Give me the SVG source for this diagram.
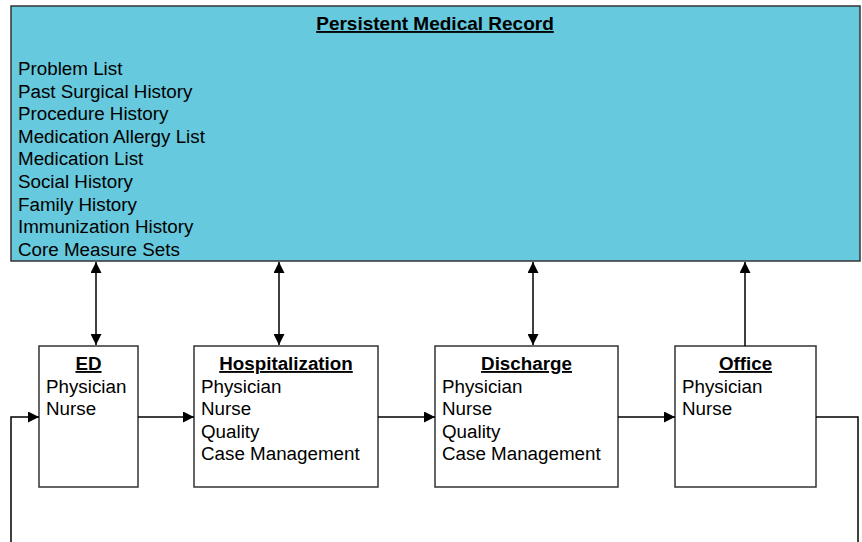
<svg xmlns="http://www.w3.org/2000/svg" width="862" height="542" viewBox="0 0 862 542">
<defs>
<marker id="ah" viewBox="0 0 10 10" refX="10" refY="5" markerWidth="11" markerHeight="11" markerUnits="userSpaceOnUse" orient="auto-start-reverse">
<path d="M0,0 L10,5 L0,10 z" fill="#000"/>
</marker>
<style>
.t{font-family:"Liberation Sans",Arial,sans-serif;font-size:18.8px;fill:#000}
.h{font-weight:bold;text-decoration:underline;text-anchor:middle}
.box{fill:#fff;stroke:#333;stroke-width:1.5}
.ln{fill:none;stroke:#000;stroke-width:1.5}
</style>
</defs>
<rect width="862" height="542" fill="#fff"/>
<g id="record">
<rect x="11" y="6" width="849" height="255" fill="#66C9DD" stroke="#333" stroke-width="1.5"/>
<text class="t h" x="435" y="30" style="font-size:19px">Persistent Medical Record</text>
<text class="t" x="18" y="75">Problem List</text>
<text class="t" x="18" y="97.6">Past Surgical History</text>
<text class="t" x="18" y="120.2">Procedure History</text>
<text class="t" x="18" y="142.8">Medication Allergy List</text>
<text class="t" x="18" y="165.4">Medication List</text>
<text class="t" x="18" y="188">Social History</text>
<text class="t" x="18" y="210.6">Family History</text>
<text class="t" x="18" y="233.2">Immunization History</text>
<text class="t" x="18" y="255.8">Core Measure Sets</text>
</g>
<g id="ed">
<rect class="box" x="39" y="346" width="99" height="141"/>
<text class="t h" x="88.5" y="370">ED</text>
<text class="t" x="46" y="392.5">Physician</text>
<text class="t" x="46" y="415">Nurse</text>
</g>
<g id="hospitalization">
<rect class="box" x="194" y="346" width="184" height="141"/>
<text class="t h" x="286" y="370">Hospitalization</text>
<text class="t" x="201" y="392.5">Physician</text>
<text class="t" x="201" y="415">Nurse</text>
<text class="t" x="201" y="437.5">Quality</text>
<text class="t" x="201" y="460">Case Management</text>
</g>
<g id="discharge">
<rect class="box" x="435" y="346" width="183" height="141"/>
<text class="t h" x="526.5" y="370">Discharge</text>
<text class="t" x="442" y="392.5">Physician</text>
<text class="t" x="442" y="415">Nurse</text>
<text class="t" x="442" y="437.5">Quality</text>
<text class="t" x="442" y="460">Case Management</text>
</g>
<g id="office">
<rect class="box" x="675" y="346" width="141" height="141"/>
<text class="t h" x="745.5" y="370">Office</text>
<text class="t" x="682" y="392.5">Physician</text>
<text class="t" x="682" y="415">Nurse</text>
</g>
<g id="connectors">
<line class="ln" x1="96" y1="262" x2="96" y2="345" marker-start="url(#ah)" marker-end="url(#ah)"/>
<line class="ln" x1="279" y1="262" x2="279" y2="345" marker-start="url(#ah)" marker-end="url(#ah)"/>
<line class="ln" x1="533" y1="262" x2="533" y2="345" marker-start="url(#ah)" marker-end="url(#ah)"/>
<line class="ln" x1="745" y1="346" x2="745" y2="262" marker-end="url(#ah)"/>
<line class="ln" x1="138" y1="417" x2="194" y2="417" marker-end="url(#ah)"/>
<line class="ln" x1="378" y1="417" x2="435" y2="417" marker-end="url(#ah)"/>
<line class="ln" x1="618" y1="417" x2="675" y2="417" marker-end="url(#ah)"/>
<polyline class="ln" points="11,542 11,417 39,417" marker-end="url(#ah)"/>
<polyline class="ln" points="816,417 858,417 858,542"/>
</g>
</svg>
